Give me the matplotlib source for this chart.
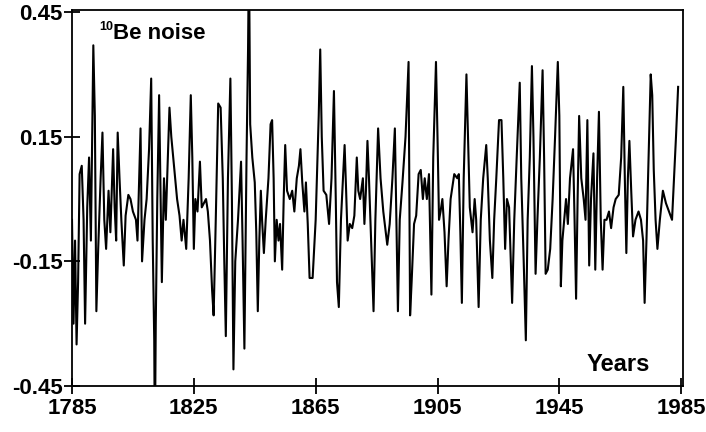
import matplotlib
matplotlib.use("Agg")
import matplotlib.pyplot as plt

plt.rcParams['font.family'] = ['Liberation Sans', 'DejaVu Sans']
plt.rcParams['axes.unicode_minus'] = False

years = [
    1785.0, 1785.5, 1786.0, 1786.5, 1787.0, 1787.5, 1788.2, 1788.8, 1789.3, 1790.0,
    1790.6, 1791.2, 1792.0, 1792.5, 1793.0, 1793.6, 1794.4, 1795.0, 1795.6, 1796.2,
    1797.0, 1797.6, 1798.5, 1799.0, 1799.5, 1800.0, 1800.6, 1801.2, 1802.0, 1802.6,
    1803.5, 1804.2, 1805.0, 1806.0, 1806.5, 1807.5, 1808.0, 1808.8, 1809.5, 1810.3,
    1811.0, 1811.5, 1812.0, 1812.2, 1812.5, 1813.0, 1813.6,
    1814.5, 1815.2, 1815.8, 1817.0, 1817.6, 1818.5, 1819.5, 1820.3, 1821.0, 1821.6,
    1822.5, 1823.3, 1824.0, 1824.5, 1825.0, 1825.5, 1826.2, 1827.0, 1827.6, 1828.3,
    1829.0, 1829.6, 1830.3, 1831.0, 1831.5, 1832.2, 1833.0, 1833.8, 1834.5, 1835.0,
    1835.5, 1836.2, 1837.0, 1837.5, 1838.0, 1838.6, 1839.5, 1840.5, 1841.0, 1841.6,
    1842.3, 1842.8, 1843.1, 1843.5,
    1844.2, 1845.0, 1845.5, 1846.0, 1846.5, 1847.0, 1847.4, 1848.0, 1848.6, 1849.5,
    1850.2, 1850.7, 1851.2, 1851.6, 1852.2, 1852.8, 1853.3, 1854.0, 1854.5, 1855.0,
    1855.6, 1856.5, 1857.3, 1858.0, 1858.8, 1859.5, 1860.0, 1860.6, 1861.3, 1861.8,
    1862.4, 1863.0, 1864.0, 1865.0, 1866.0, 1866.5, 1867.0, 1867.6, 1868.5, 1869.4,
    1870.2, 1871.0, 1871.6, 1872.0, 1872.6, 1873.3, 1874.5, 1875.0, 1875.5, 1876.2,
    1877.0, 1877.7, 1878.5, 1879.0, 1879.6, 1880.5, 1881.0, 1881.5, 1882.0, 1882.5,
    1883.2, 1884.0, 1884.6, 1885.5, 1886.3, 1887.2, 1888.5, 1889.3, 1890.2, 1891.0,
    1891.5, 1892.0, 1892.6, 1893.5, 1894.5, 1895.5, 1896.0, 1896.5, 1897.3, 1898.0,
    1898.8, 1899.5, 1900.2, 1900.8, 1901.5, 1902.2, 1903.0, 1903.6, 1904.5, 1905.0,
    1905.5, 1906.0, 1906.6, 1907.3, 1908.0, 1908.6, 1909.3, 1910.5, 1911.5, 1912.0,
    1912.5, 1913.0, 1913.6, 1914.5, 1915.0, 1915.6, 1916.5, 1917.2, 1917.7, 1918.5,
    1919.2, 1920.0, 1921.0, 1921.5, 1922.2, 1923.0, 1923.6, 1924.3, 1925.2, 1926.0,
    1926.6, 1927.2, 1927.8, 1928.5, 1929.5, 1930.2, 1931.0, 1932.0, 1932.5, 1933.3,
    1934.0, 1934.6, 1935.3, 1936.0, 1936.5, 1937.2, 1937.8, 1938.6, 1939.5, 1940.0,
    1940.5, 1941.2, 1942.0, 1942.8, 1943.6, 1944.5, 1945.0, 1945.5, 1946.0, 1946.6,
    1947.2, 1947.8, 1948.5, 1949.5, 1950.0, 1950.5, 1951.0, 1951.5, 1952.2, 1953.0,
    1953.6, 1954.2, 1954.8, 1955.4, 1956.2, 1956.8, 1957.4, 1958.0, 1958.6, 1959.2,
    1959.8, 1960.5, 1961.3, 1962.0, 1962.8, 1963.5, 1964.5, 1965.3, 1966.0, 1966.5,
    1967.0, 1967.5, 1968.0, 1968.6, 1969.2, 1970.0, 1971.0, 1971.8, 1972.5, 1973.0,
    1973.6, 1974.3, 1975.0, 1975.5, 1976.0, 1976.6, 1977.2, 1978.0, 1979.0, 1980.0,
    1981.0, 1982.0, 1982.6, 1983.3, 1984.0,
]

noise = [
    -0.05, -0.30, -0.10, -0.35, -0.20, 0.06, 0.08, -0.05, -0.30, -0.02,
    0.10, -0.10, 0.37, 0.20, -0.27, -0.12, 0.05, 0.16, -0.05, -0.12,
    0.02, -0.08, 0.12, -0.02, -0.10, 0.16, 0.05, -0.05, -0.16, -0.04,
    0.01, 0.00, -0.03, -0.05, -0.10, 0.17, -0.15, -0.05, 0.00, 0.12,
    0.29, -0.10, -0.34, -0.60, -0.30, 0.00, 0.25,
    -0.20, 0.05, -0.05, 0.22, 0.15, 0.08, 0.00, -0.04, -0.10, -0.05,
    -0.12, 0.05, 0.25, 0.10, -0.12, 0.00, -0.03, 0.09, -0.02, -0.01,
    0.00, -0.03, -0.10, -0.22, -0.28, -0.05, 0.23, 0.22, 0.05, -0.15,
    -0.33, 0.05, 0.29, 0.00, -0.41, -0.15, -0.05, 0.09, -0.10, -0.36,
    0.10, 0.36, 0.60, 0.18,
    0.10, 0.04, -0.08, -0.27, -0.10, 0.02, -0.05, -0.13, -0.05, 0.05,
    0.18, 0.19, 0.05, -0.15, -0.05, -0.10, -0.06, -0.17, 0.00, 0.13,
    0.02, 0.00, 0.02, -0.03, 0.05, 0.08, 0.12, 0.04, -0.03, 0.04,
    -0.06, -0.19, -0.19, -0.05, 0.20, 0.36, 0.15, 0.02, 0.01, -0.06,
    0.05, 0.26, 0.00, -0.20, -0.26, -0.05, 0.13, 0.02, -0.10, -0.06,
    -0.07, -0.04, 0.10, 0.02, 0.00, 0.05, -0.06, 0.02, 0.14, 0.05,
    -0.10, -0.27, -0.05, 0.17, 0.05, -0.03, -0.11, -0.06, 0.05, 0.17,
    -0.05, -0.27, -0.05, 0.04, 0.15, 0.33, -0.28, -0.20, -0.06, -0.04,
    0.06, 0.07, 0.00, 0.05, 0.00, 0.06, -0.23, 0.10, 0.33, 0.15,
    -0.05, -0.03, 0.00, -0.08, -0.21, -0.10, 0.00, 0.06, 0.05, 0.06,
    -0.08, -0.25, 0.05, 0.30, 0.15, -0.02, -0.08, 0.00, -0.05, -0.26,
    -0.05, 0.05, 0.13, 0.05, -0.10, -0.19, -0.05, 0.05, 0.19, 0.19,
    0.05, -0.12, 0.00, -0.02, -0.25, -0.05, 0.10, 0.28, 0.05, -0.15,
    -0.34, -0.05, 0.10, 0.32, 0.15, -0.18, -0.05, 0.10, 0.31, 0.10,
    -0.18, -0.17, -0.12, 0.00, 0.15, 0.33, 0.20, -0.21, -0.10, -0.05,
    0.00, -0.06, 0.05, 0.12, -0.05, -0.24, 0.00, 0.20, 0.05, 0.00,
    -0.05, 0.19, -0.16, 0.00, 0.11, -0.17, 0.05, 0.21, -0.05, -0.17,
    -0.05, -0.05, -0.03, -0.07, -0.02, 0.00, 0.01, 0.10, 0.27, 0.05,
    -0.13, 0.05, 0.14, 0.02, -0.09, -0.05, -0.03, -0.05, -0.10, -0.25,
    -0.10, 0.10, 0.30, 0.25, 0.07, -0.05, -0.12, -0.05, 0.02, -0.01,
    -0.03, -0.05, 0.04, 0.15, 0.27,
]

xticks = [1785, 1825, 1865, 1905, 1945, 1985]
yticks = [-0.45, -0.15, 0.15, 0.45]
ytick_labels = ["-0.45", "-0.15", "0.15", "0.45"]

fig = plt.figure(figsize=(7.06, 4.32), dpi=100)
ax = fig.add_axes([72/706, 1 - 386/432, (683 - 72)/706, (386 - 10)/432])

ax.plot(years, noise, color='black', lw=1.5)

ax.set_xlim(1785, 1985.6)
ax.set_ylim(-0.45, 0.455)
ax.set_xticks(xticks)
ax.set_xticklabels([str(t) for t in xticks], fontsize=16, fontweight='bold')
ax.set_yticks(yticks)
ax.set_yticklabels(ytick_labels, fontsize=16, fontweight='bold')
ax.tick_params(direction='inout', length=11, width=1.3, color='black')
ax.tick_params(axis='x', pad=3)
ax.tick_params(axis='y', pad=1)
for s in ax.spines.values():
    s.set_linewidth(1.3)

ax.text(99/706, 1 - 30/432, "10", transform=fig.transFigure, fontsize=9,
        ha='left', va='baseline', fontweight='bold')
ax.text(113/706, 1 - 39/432, "Be noise", transform=fig.transFigure, fontsize=16,
        ha='left', va='baseline', fontweight='bold')
ax.text(650/706, 1 - 371/432, "Years", transform=fig.transFigure, fontsize=17,
        ha='right', va='baseline', fontweight='bold')

fig.savefig("out.png", dpi=100)
